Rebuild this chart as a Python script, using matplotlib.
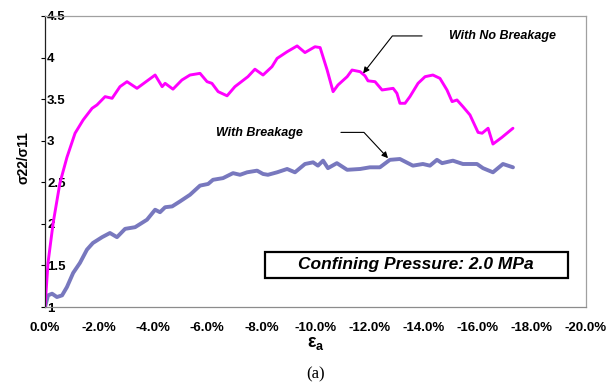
import matplotlib
matplotlib.use("Agg")
import matplotlib.pyplot as plt
from matplotlib.ticker import FuncFormatter
from matplotlib.patches import Rectangle

plt.rcParams['font.family'] = ['Liberation Sans', 'DejaVu Sans']
plt.rcParams['mathtext.fontset'] = 'custom'
plt.rcParams['mathtext.bf'] = 'Liberation Sans:bold'
plt.rcParams['mathtext.rm'] = 'Liberation Sans'

# axial strain (%) and stress ratio, with no breakage
strain_nb = [0, -0.11, -0.30, -0.55, -0.81, -1.11, -1.41, -1.74, -1.92, -2.22, -2.48, -2.77,
             -3.03, -3.40, -4.07, -4.33, -4.44, -4.73, -5.06, -5.36, -5.73, -5.99, -6.17, -6.40,
             -6.73, -7.02, -7.50, -7.76, -8.06, -8.39, -8.58, -8.95, -9.32, -9.61, -9.98, -10.17,
             -10.43, -10.65, -10.83, -11.17, -11.35, -11.65, -11.83, -11.94, -12.20, -12.46,
             -12.87, -13.01, -13.12, -13.31, -13.49, -13.79, -14.05, -14.34, -14.60, -14.86,
             -15.05, -15.23, -15.45, -15.71, -16.01, -16.16, -16.38, -16.56, -16.89, -17.30]
ratio_nb = [1.00, 1.53, 2.01, 2.49, 2.80, 3.09, 3.25, 3.39, 3.43, 3.53, 3.51, 3.65,
            3.71, 3.63, 3.79, 3.65, 3.69, 3.62, 3.73, 3.79, 3.81, 3.71, 3.69, 3.59,
            3.54, 3.65, 3.77, 3.86, 3.79, 3.89, 3.99, 4.07, 4.14, 4.06, 4.13, 4.12,
            3.85, 3.59, 3.67, 3.77, 3.85, 3.83, 3.78, 3.72, 3.71, 3.61,
            3.63, 3.57, 3.45, 3.45, 3.53, 3.69, 3.77, 3.79, 3.75, 3.61,
            3.47, 3.49, 3.41, 3.31, 3.10, 3.09, 3.15, 2.96, 3.04, 3.15]

# with breakage
strain_b = [0, -0.11, -0.26, -0.44, -0.63, -0.81, -1.04, -1.29, -1.55, -1.77, -2.11, -2.40,
            -2.66, -2.96, -3.33, -3.77, -4.07, -4.25, -4.44, -4.70, -4.99, -5.36, -5.73, -6.03,
            -6.21, -6.58, -6.95, -7.21, -7.47, -7.84, -8.06, -8.24, -8.58, -8.95, -9.24, -9.61,
            -9.91, -10.09, -10.28, -10.46, -10.79, -11.17, -11.65, -12.01, -12.38, -12.75,
            -13.12, -13.60, -13.97, -14.23, -14.49, -14.68, -15.08, -15.45, -15.97, -16.19,
            -16.56, -16.93, -17.30]
ratio_b = [1.00, 1.14, 1.16, 1.12, 1.14, 1.24, 1.41, 1.53, 1.69, 1.77, 1.84, 1.89,
           1.84, 1.94, 1.96, 2.05, 2.17, 2.14, 2.20, 2.21, 2.27, 2.35, 2.46, 2.48,
           2.53, 2.55, 2.61, 2.59, 2.62, 2.64, 2.60, 2.59, 2.62, 2.66, 2.62, 2.72,
           2.74, 2.70, 2.76, 2.67, 2.73, 2.65, 2.66, 2.68, 2.68, 2.77,
           2.78, 2.70, 2.72, 2.70, 2.77, 2.73, 2.76, 2.72, 2.72, 2.67,
           2.62, 2.72, 2.68]

xticks = [0, -2, -4, -6, -8, -10, -12, -14, -16, -18, -20]
yticks = [1, 1.5, 2, 2.5, 3, 3.5, 4, 4.5]

fig = plt.figure(figsize=(6.16, 3.87), dpi=100)
ax = fig.add_axes([0.0731, 0.2067, 0.8782, 0.752])

ax.plot(strain_b, ratio_b, color='#7878BE', lw=2.8, solid_capstyle='round', solid_joinstyle='round')
ax.plot(strain_nb, ratio_nb, color='#FF00FF', lw=2.1, solid_capstyle='round', solid_joinstyle='round')

ax.set_xlim(0, -20)
ax.set_ylim(1, 4.5)
ax.set_xticks(xticks)
ax.set_yticks(yticks)
ax.xaxis.set_major_formatter(FuncFormatter(lambda v, p: "%.1f%%" % v if v != 0 else "0.0%"))
ax.yaxis.set_major_formatter(FuncFormatter(lambda v, p: "%g" % v))

ax.tick_params(axis='x', length=0, pad=10.5, labelsize=9.5)
ax.tick_params(axis='y', direction='out', length=3, width=0.8, pad=-4.5, labelsize=9.5)
for t in ax.get_xticklabels() + ax.get_yticklabels():
    t.set_fontweight('bold')
for t in ax.get_yticklabels():
    t.set_horizontalalignment('left')

for s in ['top', 'right']:
    ax.spines[s].set_color('#A0A0A0')
    ax.spines[s].set_linewidth(0.9)
ax.spines['bottom'].set_color('#8C8C8C')
ax.spines['bottom'].set_linewidth(0.9)
ax.spines['left'].set_color('#202020')
ax.spines['left'].set_linewidth(0.9)

ax.set_xlabel('$\\mathbf{\u03b5_a}$', fontsize=13, labelpad=1)
ax.set_ylabel('\u03c322/\u03c311', fontsize=10, fontweight='bold')
ax.yaxis.label.set_va('center')
ax.yaxis.set_label_coords(-0.039, 0.515)

# annotations
ax.annotate('', xy=(-11.76, 3.81), xytext=(-13.94, 4.26),
            arrowprops=dict(arrowstyle='-|>', color='black', lw=0.8, mutation_scale=9,
                            shrinkA=0, shrinkB=0,
                            connectionstyle='angle,angleA=0,angleB=52,rad=0'))
ax.text(-14.94, 4.26, 'With No Breakage', fontsize=9, fontweight='bold', style='italic',
        ha='left', va='center')

ax.annotate('', xy=(-12.68, 2.79), xytext=(-10.94, 3.10),
            arrowprops=dict(arrowstyle='-|>', color='black', lw=0.8, mutation_scale=9,
                            shrinkA=0, shrinkB=0,
                            connectionstyle='angle,angleA=0,angleB=133,rad=0'))
ax.text(-6.32, 3.09, 'With Breakage', fontsize=9, fontweight='bold', style='italic',
        ha='left', va='center')

ax.add_patch(Rectangle((0.4067, 0.0997), 0.560, 0.0893, transform=ax.transAxes,
                       fill=False, edgecolor='black', lw=1.6))
ax.text(0.4067 + 0.278, 0.0997 + 0.0447, 'Confining Pressure: 2.0 MPa', transform=ax.transAxes,
        fontsize=12.5, fontweight='bold', style='italic', ha='center', va='center')

fig.text(0.513, 1 - 374 / 387, '(a)', family='Liberation Serif', fontsize=12,
         ha='center', va='center')

fig.savefig('out.png', dpi=100)
